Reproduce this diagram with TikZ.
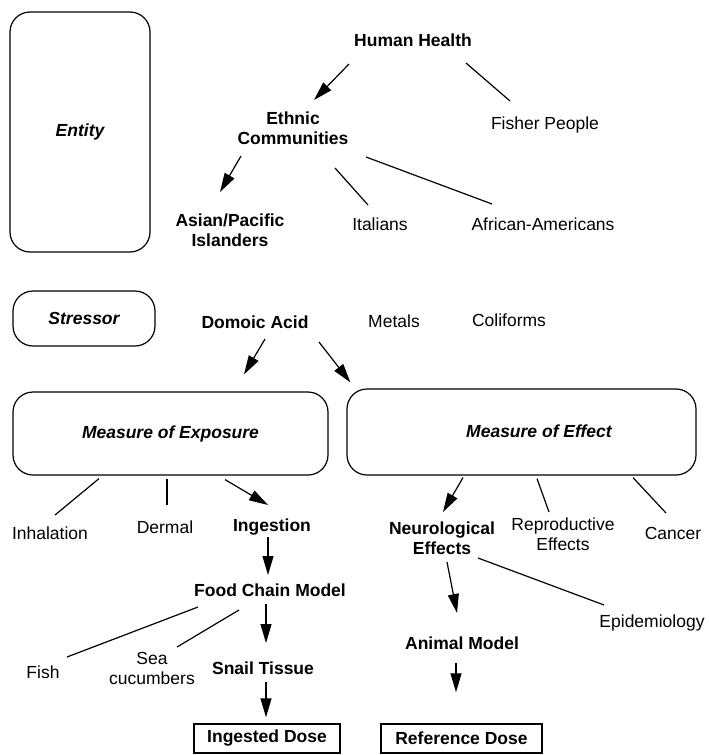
\documentclass[tikz,border=0pt]{standalone}
\usepackage{fontspec}
\setmainfont{Liberation Sans}
\usetikzlibrary{arrows.meta,positioning}
\newcommand\LabFont{\fontsize{17.5}{20}\selectfont}
\tikzset{
  txt/.style={
    font = \LabFont,
    align = center,
    inner sep = 1pt
  },
  txtbold/.style={
    txt,
    font = \LabFont\bfseries
  },
  roundbox/.style={
    draw,
    line width = 1.2pt,
    rounded corners = 20pt,
    inner sep = 0pt,
    font = \LabFont\bfseries\itshape
  },
  dosebox/.style={
    draw,
    line width = 1.5pt,
    inner sep = 0pt,
    font = \LabFont\bfseries
  },
  conn/.style={
    line width = 1.2pt
  },
  connarrow/.style={
    conn,
    -{Triangle[length=19pt,width=11pt]}
  }
}

\begin{document}
\begin{tikzpicture}[x=1pt,y=-1pt]
    \useasboundingbox (0,0) rectangle (709,755);

    % entity
    \node[roundbox, minimum width=140pt, minimum height=240pt] (entity) at (80,132) {Entity};
    \node[txtbold] (hh) at (413,40) {Human Health};
    \node[txt] (fisher) at (545,125) {Fisher People};
    \node[txtbold] (ethnic) at (293,128) {Ethnic\\Communities};
    \node[txtbold] (asian) at (230,230) {Asian/Pacific\\Islanders};
    \node[txt] (ital) at (380,224) {Italians};
    \node[txt] (afram) at (543,224) {African-Americans};

    \draw[connarrow] ([shift={(-64,24)}]hh.center) -- ([shift={(21,-28)}]ethnic.center);
    \draw[conn] ([shift={(53,23)}]hh.center) -- ([shift={(-35,-24)}]fisher.center);
    \draw[connarrow] ([shift={(-52,28)}]ethnic.center) -- ([shift={(-10,-38)}]asian.center);
    \draw[conn] ([shift={(42,40)}]ethnic.center) -- ([shift={(-12,-19)}]ital.center);
    \draw[conn] ([shift={(73,29)}]ethnic.center) -- ([shift={(-51,-20)}]afram.center);

    % stressor
    \node[roundbox, minimum width=142pt, minimum height=55pt] (stressor) at (84,318.5) {Stressor};
    \node[txtbold] (domoic) at (255,322) {Domoic Acid};
    \node[txt] (metals) at (394,321) {Metals};
    \node[txt] (coli) at (509,320) {Coliforms};

    \node[roundbox, minimum width=315pt, minimum height=83pt] (expo) at (170.5,433.5) {Measure of Exposure};
    \node[roundbox, minimum width=349pt, minimum height=86pt] (effect) at (521.5,432) {};
    \node[txt, font=\LabFont\bfseries\itshape] (effecttxt) at (539,431) {Measure of Effect};

    \draw[connarrow] ([shift={(10,17)}]domoic.center) -- ([shift={(73.5,-17)}]expo.north);
    \draw[connarrow] ([shift={(64,20)}]domoic.center) -- ([shift={(4,-6)}]effect.north west);

    % exposure branch
    \node[txt] (inhal) at (50,533) {Inhalation};
    \node[txt] (dermal) at (165,527) {Dermal};
    \node[txtbold] (ingest) at (272,527) {Ingestion};
    \node[txtbold] (fcm) at (270,590) {Food Chain Model};
    \node[txt] (fish) at (43,672) {Fish};
    \node[txt] (sea) at (152,668) {Sea\\cucumbers};
    \node[txtbold] (snail) at (263,668) {Snail Tissue};
    \node[dosebox, minimum width=146pt, minimum height=29pt] (ingdose) at (267,738.5) {Ingested Dose};

    \draw[conn] ([shift={(-71.5,3)}]expo.south) -- ([shift={(5,-18)}]inhal.center);
    \draw[conn] ([shift={(-3.5,3)}]expo.south) -- ([shift={(2,-22)}]dermal.center);
    \draw[connarrow] ([shift={(54.5,4)}]expo.south) -- ([shift={(-4,-22)}]ingest.center);
    \draw[connarrow] ([shift={(-4,10)}]ingest.center) -- ([shift={(-2,-15)}]fcm.center);
    \draw[conn] ([shift={(-72,17)}]fcm.center) -- ([shift={(24,-15)}]fish.center);
    \draw[conn] ([shift={(-31,20)}]fcm.center) -- ([shift={(25,-21)}]sea.center);
    \draw[connarrow] ([shift={(-4,14)}]fcm.center) -- ([shift={(3,-25)}]snail.center);
    \draw[connarrow] ([shift={(3,14)}]snail.center) -- ([shift={(-1,-6)}]ingdose.north);

    % effect branch
    \node[txtbold] (neuro) at (442,538) {Neurological\\Effects};
    \node[txt] (repro) at (563,534) {Reproductive\\Effects};
    \node[txt] (cancer) at (673,533) {Cancer};
    \node[txt] (epid) at (652,623) {Epidemiology};
    \node[txtbold] (animal) at (462,643) {Animal Model};
    \node[dosebox, minimum width=161pt, minimum height=29pt] (refdose) at (461.5,738.5) {Reference Dose};

    \draw[connarrow] ([shift={(-58.5,2)}]effect.south) -- ([shift={(1,-26)}]neuro.center);
    \draw[conn] ([shift={(15.5,3)}]effect.south) -- ([shift={(-14,-22)}]repro.center);
    \draw[conn] ([shift={(111.5,2)}]effect.south) -- ([shift={(-7,-20)}]cancer.center);
    \draw[connarrow] ([shift={(5,24)}]neuro.center) -- ([shift={(-5,-30)}]animal.center);
    \draw[conn] ([shift={(36,20)}]neuro.center) -- ([shift={(-48,-18)}]epid.center);
    \draw[connarrow] ([shift={(-6,20)}]animal.center) -- ([shift={(-5.5,-31)}]refdose.north);
\end{tikzpicture}
\end{document}
